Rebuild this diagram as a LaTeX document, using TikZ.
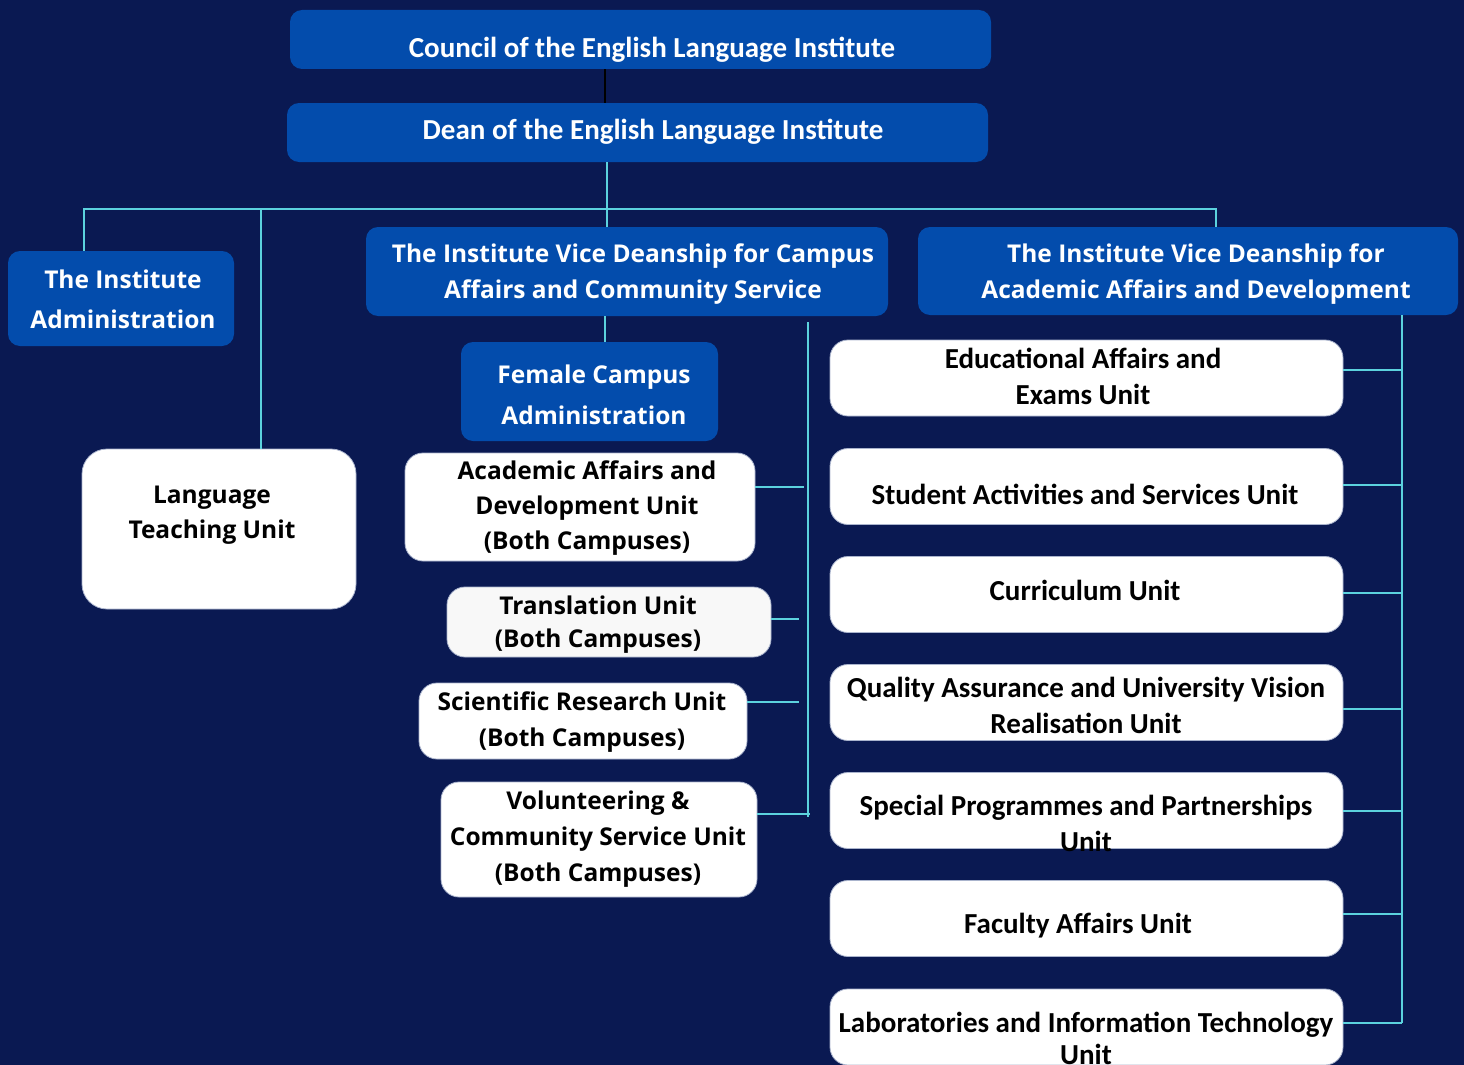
\documentclass[tikz,border=0pt]{standalone}
\usepackage{fontspec}
\setmainfont{Carlito}
\newfontfamily\opensans{Open Sans}
\definecolor{navy}{RGB}{10,25,82}
\definecolor{boxblue}{RGB}{3,76,172}
\definecolor{linkcyan}{RGB}{92,210,222}
\definecolor{edge}{RGB}{170,180,205}
\definecolor{offwhite}{RGB}{248,248,248}
\begin{document}
\begin{tikzpicture}[x=1pt,y=-1pt,
    bluebox/.style={rectangle,rounded corners=12pt,fill=boxblue,inner sep=0pt},
    whitebox/.style={rectangle,rounded corners=18pt,fill=white,draw=edge,line width=0.8pt,inner sep=0pt},
    headtxt/.style={text=white,font=\fontsize{29}{36}\selectfont\bfseries,align=center,inner sep=0pt},
    wingtxt/.style={text=white,font=\opensans\fontsize{24.5}{36}\selectfont\bfseries,align=center,inner sep=0pt},
    unittxt/.style={text=black,font=\opensans\fontsize{24.5}{35}\selectfont\bfseries,align=center,inner sep=0pt},
    tabtxt/.style={text=black,font=\fontsize{29}{36}\selectfont\bfseries,align=center,inner sep=0pt},
    link/.style={linkcyan,line width=2.5pt}]
        \useasboundingbox (0,0) rectangle (1464,1065);
        \fill[navy] (0,0) rectangle (1464,1065);
        % top of the chart
        \node[bluebox,minimum width=701pt,minimum height=59pt] (council) at (640.5,39.5) {};
        \node[bluebox,minimum width=701pt,minimum height=59pt] (dean) at (637.5,132.5) {};
        \node[bluebox,minimum width=226pt,minimum height=95pt] (admin) at (121,298.5) {};
        \node[bluebox,minimum width=522pt,minimum height=89pt] (vdcampus) at (627,271.5) {};
        \node[bluebox,minimum width=540pt,minimum height=88pt] (vdacad) at (1188,271) {};
        \node[bluebox,minimum width=257pt,minimum height=99pt] (female) at (589.5,391.5) {};
        % units
        \node[whitebox,rounded corners=25pt,minimum width=274pt,minimum height=160pt] (lang) at (219,529) {};
        \node[whitebox,minimum width=350pt,minimum height=108pt] (academic) at (580,507) {};
        \node[whitebox,fill=offwhite,minimum width=324pt,minimum height=70pt] (transl) at (609,622) {};
        \node[whitebox,minimum width=328pt,minimum height=76pt] (research) at (583,721) {};
        \node[whitebox,minimum width=316pt,minimum height=115pt] (volunteer) at (599,839.5) {};
        \foreach \n/\y in {edu/378,student/486.5,curric/594.5,quality/702.5,special/810.5,faculty/918.5,labs/1027}
            \node[whitebox,minimum width=513pt,minimum height=76pt] (\n) at (1086.5,\y) {};
        % texts
        \node[headtxt] (council-t) at (652,50) {Council of the English Language Institute};
        \node[headtxt] (dean-t) at (653,132) {Dean of the English Language Institute};
        \node[wingtxt] (admin-t) at (123,299) {The Institute\\[4pt]Administration};
        \node[wingtxt] (vdcampus-t) at (633,274) {The Institute Vice Deanship for Campus\\Affairs and Community Service};
        \node[wingtxt] (vdacad-t) at (1196,274) {The Institute Vice Deanship for\\Academic Affairs and Development};
        \node[wingtxt] (female-t) at (594,395) {Female Campus\\[5pt]Administration};
        \node[unittxt] (lang-t) at (212,515) {Language\\Teaching Unit};
        \node[unittxt] (academic-t) at (587,508) {Academic Affairs and\\Development Unit\\(Both Campuses)};
        \node[unittxt] (transl-t) at (598,624.5) {Translation Unit\\[-2pt](Both Campuses)};
        \node[unittxt] (research-t) at (582,722) {Scientific Research Unit\\[1pt](Both Campuses)};
        \node[unittxt] (volunteer-t) at (598,839) {Volunteering \&\\[1pt]Community Service Unit\\[1pt](Both Campuses)};
        \node[tabtxt] (edu-t) at (1083,376) {Educational Affairs and\\Exams Unit};
        \node[tabtxt] (student-t) at (1085,494) {Student Activities and Services Unit};
        \node[tabtxt] (curric-t) at (1085,590) {Curriculum Unit};
        \node[tabtxt] (quality-t) at (1086,705) {Quality Assurance and University Vision\\Realisation Unit};
        \node[tabtxt] (special-t) at (1086,823) {Special Programmes and Partnerships\\Unit};
        \node[tabtxt] (faculty-t) at (1078,926) {Faculty Affairs Unit};
        \node[tabtxt] (labs-t) at (1086,1038) {Laboratories and Information Technology\\[-4pt]Unit};
        % connectors
        \coordinate (busL) at (84,209);
        \coordinate (busM) at (261,209);
        \coordinate (busR) at (1216,209);
        \coordinate (spineC) at (808,322);
        \coordinate (spineA) at (1402,1023);
        \draw[black,line width=2pt] (605,0 |- council.south) -- (605,0 |- dean.north);
        \draw[link] (607,0 |- dean.south) -- (607,0 |- vdcampus.north);
        \draw[link] (busL |- admin.north) -- (busL) -- (busR) -- (busR |- vdacad.north);
        \draw[link] (busM) -- (busM |- lang.north);
        \draw[link] (605,0 |- vdcampus.south) -- (605,0 |- female.north);
        \draw[link] (spineC) -- (808,817);
        \draw[link] (academic.east |- 0,487) -- (804,487);
        \draw[link] (transl.east |- 0,619) -- (799,619);
        \draw[link] (research.east |- 0,702) -- (799,702);
        \draw[link] (volunteer.east |- 0,814) -- (810,814);
        \draw[link] (spineA |- vdacad.south) -- (spineA);
        \foreach \n/\y in {edu/370,student/485,curric/593,quality/709,special/811,faculty/914,labs/1023}
            \draw[link] (\n.east |- 0,\y) -- (spineA |- 0,\y);
    \end{tikzpicture}
\end{document}
